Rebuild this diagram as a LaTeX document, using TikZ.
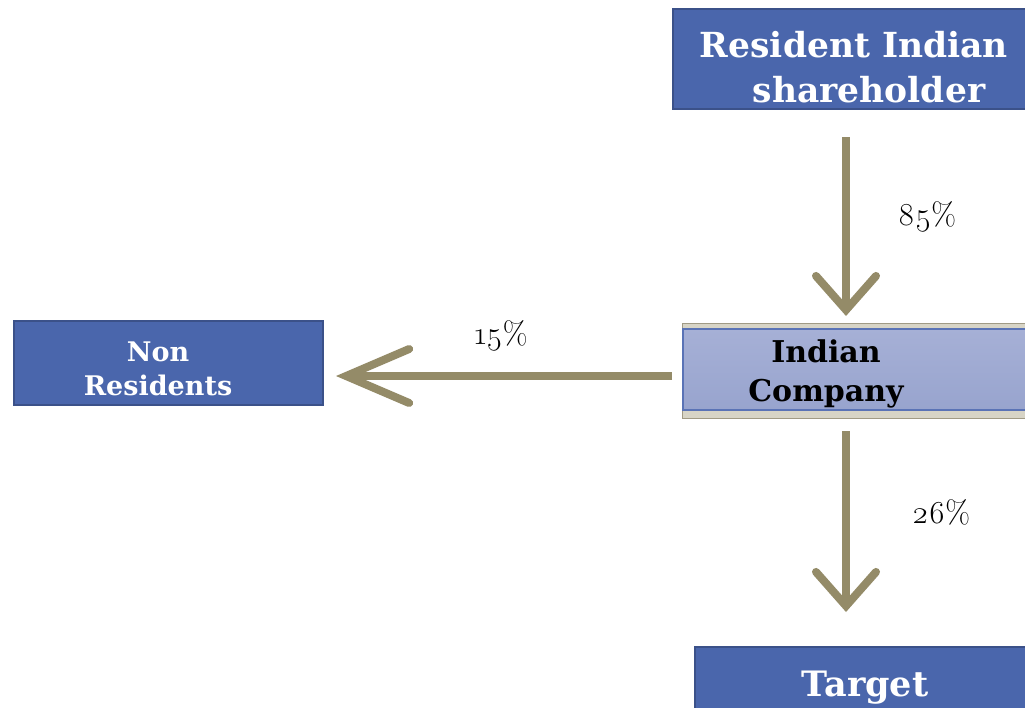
\documentclass[tikz,border=0pt]{standalone}
\usepackage{fontspec}
\newfontfamily\boxfont{DejaVu Serif}
\newfontfamily\pctfont{Latin Modern Roman}[Numbers=OldStyle]
\usetikzlibrary{arrows.meta,calc}
\definecolor{boxblue}{HTML}{4A66AC}
\definecolor{boxedge}{HTML}{3B5189}
\definecolor{arrowc}{HTML}{948B68}
\definecolor{frameback}{HTML}{D7D4C6}
\definecolor{frameedge}{HTML}{A09A85}
\definecolor{innertop}{HTML}{A6B0D6}
\definecolor{innerbot}{HTML}{98A4CE}
\definecolor{inneredge}{HTML}{5A73B6}
\begin{document}
\begin{tikzpicture}[x=1pt,y=-1pt,
  bluebox/.style={rectangle, draw=boxedge, line width=2pt, fill=boxblue, inner sep=0pt, anchor=north west},
  boxtext/.style={text=white, align=center, inner sep=0pt},
  pct/.style={font=\pctfont\fontsize{32}{36}\selectfont, inner sep=0pt},
  flow/.style={draw=arrowc, line width=8pt}
]
\useasboundingbox (0,0) rectangle (1025,707);
\clip (0,0) rectangle (1025,707);

% boxes
\node[bluebox, minimum width=370pt, minimum height=100pt] (rs) at (672,8) {};
\node[bluebox, minimum width=309pt, minimum height=84pt] (nr) at (13,320) {};
\node[bluebox, minimum width=360pt, minimum height=80pt] (tg) at (694,646) {};
\node[rectangle, draw=frameedge, line width=1.2pt, fill=frameback, inner sep=0pt, anchor=north west,
      minimum width=360pt, minimum height=95pt] (ic) at (682,323) {};
\node[rectangle, draw=inneredge, line width=1.5pt, top color=innertop, bottom color=innerbot, inner sep=0pt,
      anchor=north west, minimum width=360pt, minimum height=81pt] (icin) at (682,328) {};

% texts
\node[boxtext, font=\boxfont\bfseries\fontsize{34.5}{45}\selectfont] (rst) at (854,67) {Resident Indian\\\hspace*{30pt}shareholder};
\node[boxtext, font=\boxfont\bfseries\fontsize{27}{34}\selectfont] (nrt) at (158,369) {Non\\Residents};
\node[boxtext, font=\boxfont\bfseries\fontsize{30}{39}\selectfont, text=black] (ict) at (826,374) {Indian\\Company};
\node[boxtext, font=\boxfont\bfseries\fontsize{35}{40}\selectfont] (tgt) at (865,688) {Target};

% labels
\node[pct] (p85) at (927,217) {85\%};
\node[pct] (p15) at (501,336) {15\%};
\node[pct] (p26) at (941,512) {26\%};

% connectors
\coordinate (ax) at (846,0);
\coordinate (ay) at (0,376);
\draw[flow, -{Straight Barb[length=34pt, width=60pt, line cap=round, line join=miter]}]
  ([yshift=-27pt]ax |- rs.south) -- ([yshift=7pt]ax |- ic.north);
\draw[flow, -{Straight Barb[length=63pt, width=54pt, line cap=round, line join=miter]}]
  ([xshift=-10pt]ic.west |- ay) -- ([xshift=12pt]nr.east |- ay);
\draw[flow, -{Straight Barb[length=34pt, width=60pt, line cap=round, line join=miter]}]
  ([yshift=-12pt]ax |- ic.south) -- ([yshift=34pt]ax |- tg.north);
\end{tikzpicture}
\end{document}
